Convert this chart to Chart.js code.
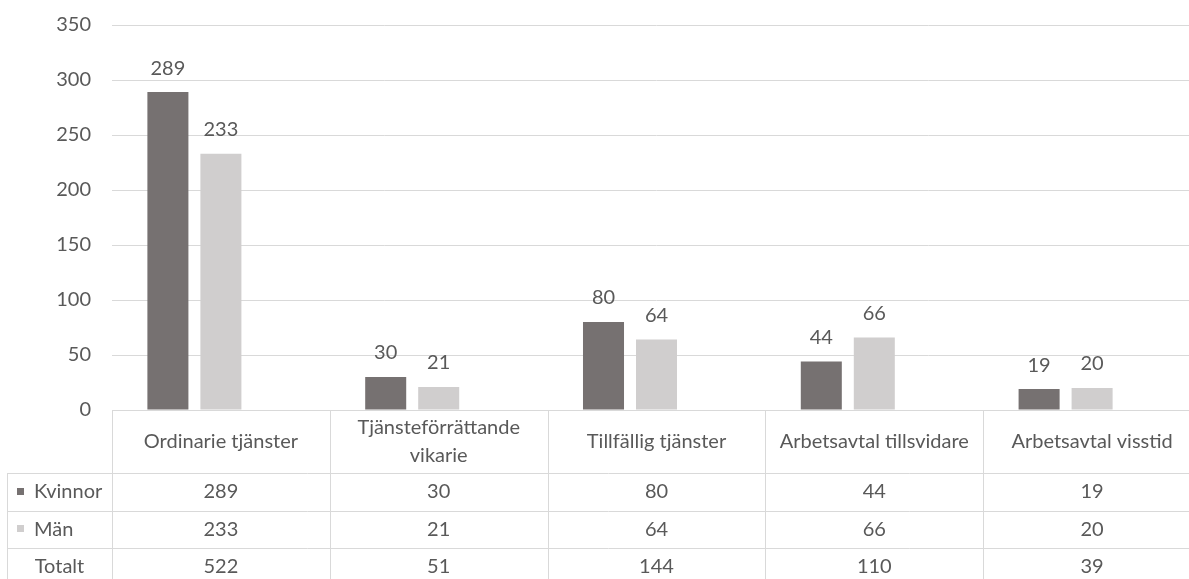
<!DOCTYPE html>
<html>
<head>
<meta charset="utf-8">
<script src="https://cdn.jsdelivr.net/npm/chart.js@4.4.1/dist/chart.umd.min.js"></script>
<style>
  html, body { margin: 0; padding: 0; background: #fff; overflow: hidden; }
  canvas { display: block; }
</style>
</head>
<body>
<canvas id="c" width="1210" height="579" style="width:1210px;height:579px"></canvas>
<script>
const categories = [
  ['Ordinarie tjänster'],
  ['Tjänsteförrättande', 'vikarie'],
  ['Tillfällig tjänster'],
  ['Arbetsavtal tillsvidare'],
  ['Arbetsavtal visstid']
];
const kvinnor = [289, 30, 80, 44, 19];
const man = [233, 21, 64, 66, 20];
const totalt = [522, 51, 144, 110, 39];
const seriesNames = ['Kvinnor', 'Män'];
const totalLabel = 'Totalt';
const yMin = 0, yMax = 350, yStep = 50;

const COL_K = '#767171';
const COL_M = '#D0CECE';
const GRID = '#d9d9d9';
const TXT = '#595959';
const FONT_FAMILY = 'Lato, "Open Sans", sans-serif';
const FONT_SIZE = 20;

const valueLabels = {
  id: 'valueLabels',
  afterDatasetsDraw(chart) {
    const ctx = chart.ctx;
    ctx.save();
    ctx.font = FONT_SIZE + 'px ' + FONT_FAMILY;
    ctx.fillStyle = TXT;
    ctx.textAlign = 'center';
    ctx.textBaseline = 'middle';
    [0, 1].forEach(di => {
      const meta = chart.getDatasetMeta(di);
      meta.data.forEach((bar, i) => {
        const v = chart.data.datasets[di].data[i];
        ctx.fillText(String(v), bar.x, bar.y - 24);
      });
    });
    ctx.restore();
  }
};

const dataTable = {
  id: 'dataTable',
  afterDraw(chart) {
    const ctx = chart.ctx;
    const xs = chart.scales.x;
    const n = categories.length;
    const colW = (xs.right - xs.left) / n;
    const top = chart.chartArea.bottom;
    const headerBottom = 473;
    const rowH = 37.5;
    const rows = [headerBottom, headerBottom + rowH, headerBottom + 2 * rowH, headerBottom + 3 * rowH];
    const leftX = 7;
    ctx.save();
    ctx.strokeStyle = GRID;
    ctx.lineWidth = 1;
    ctx.beginPath();
    ctx.moveTo(xs.left, Math.round(top) + 0.5);
    ctx.lineTo(chart.width, Math.round(top) + 0.5);
    rows.slice(0, 3).forEach(y => {
      ctx.moveTo(leftX, Math.round(y) + 0.5);
      ctx.lineTo(chart.width, Math.round(y) + 0.5);
    });
    for (let i = 0; i <= n; i++) {
      const x = Math.round(xs.left + i * colW) + 0.5;
      ctx.moveTo(x, top);
      ctx.lineTo(x, chart.height);
    }
    ctx.moveTo(leftX + 0.5, headerBottom);
    ctx.lineTo(leftX + 0.5, chart.height);
    ctx.stroke();

    ctx.font = FONT_SIZE + 'px ' + FONT_FAMILY;
    ctx.fillStyle = TXT;
    ctx.textAlign = 'center';
    ctx.textBaseline = 'middle';
    categories.forEach((lines, i) => {
      const cx = xs.getPixelForValue(i);
      const cy = (top + headerBottom) / 2;
      const lh = 28;
      lines.forEach((t, li) => {
        ctx.fillText(t, cx, cy + (li - (lines.length - 1) / 2) * lh);
      });
    });
    const rowData = [kvinnor, man, totalt];
    rowData.forEach((arr, r) => {
      const cy = rows[r] + rowH / 2;
      arr.forEach((v, i) => {
        ctx.fillText(String(v), xs.getPixelForValue(i), cy);
      });
    });
    const keyCols = [COL_K, COL_M];
    ctx.textAlign = 'left';
    seriesNames.forEach((name, r) => {
      const cy = rows[r] + rowH / 2;
      ctx.fillStyle = keyCols[r];
      ctx.fillRect(17, Math.round(cy - 4), 7, 7);
      ctx.fillStyle = TXT;
      ctx.fillText(name, 34, cy);
    });
    ctx.textAlign = 'center';
    ctx.fillText(totalLabel, (leftX + xs.left) / 2, rows[2] + rowH / 2);
    ctx.restore();
  }
};

new Chart(document.getElementById('c'), {
  type: 'bar',
  data: {
    labels: categories,
    datasets: [
      { label: seriesNames[0], data: kvinnor, backgroundColor: COL_K, barPercentage: 0.774, categoryPercentage: 0.73 },
      { label: seriesNames[1], data: man, backgroundColor: COL_M, barPercentage: 0.774, categoryPercentage: 0.73 },
      { label: '', data: categories.map(() => null), backgroundColor: 'rgba(0,0,0,0)', barPercentage: 0.774, categoryPercentage: 0.73 }
    ]
  },
  options: {
    responsive: false,
    animation: false,
    layout: { padding: { left: 0, right: 9, top: 25, bottom: 169 } },
    plugins: { legend: { display: false }, tooltip: { enabled: false } },
    scales: {
      x: { display: false },
      y: {
        min: yMin, max: yMax,
        afterFit(axis) { axis.width = 112; axis.paddingTop = 0; axis.paddingBottom = 0; },
        border: { display: false },
        grid: { color: GRID, drawTicks: false, lineWidth: 1 },
        ticks: { stepSize: yStep, color: TXT, padding: 21, font: { family: FONT_FAMILY, size: FONT_SIZE } }
      }
    }
  },
  plugins: [valueLabels, dataTable]
});
</script>
</body>
</html>
